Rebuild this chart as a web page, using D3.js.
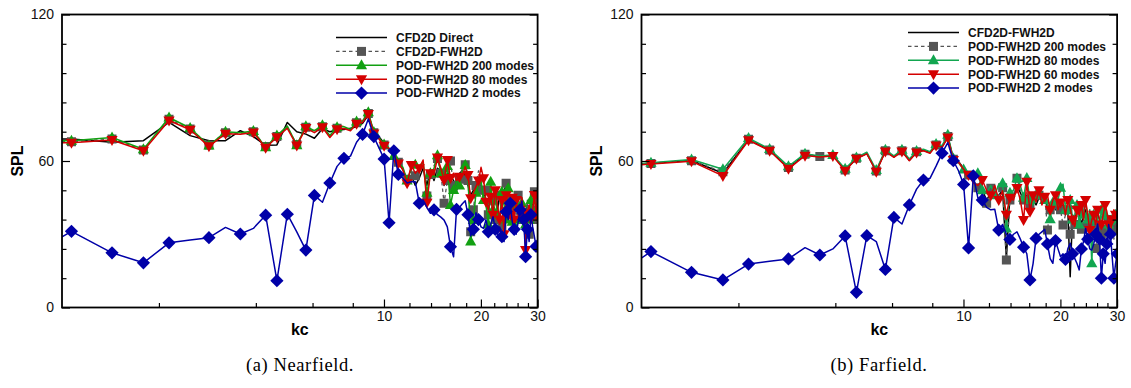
<!DOCTYPE html>
<html>
<head>
<meta charset="utf-8">
<script src="https://cdn.jsdelivr.net/npm/d3@7"></script>
<style>
  body { margin: 0; background: #fff; }
  svg { display: block; }
  text { font-family: "Liberation Sans", Arial, Helvetica, sans-serif; }
</style>
</head>
<body>
<svg id="chart" width="1131" height="388"></svg>
<script>
// Frequency bins (kc)
const kc = [
  0.72, 1.07, 1.43, 1.79, 2.15, 2.50, 2.86, 3.22, 3.58, 3.93,
  4.29, 4.65, 5.01, 5.36, 5.72, 6.08, 6.44, 6.79, 7.15, 7.51,
  7.87, 8.22, 8.58, 8.94, 9.30, 9.65, 10.01, 10.37, 10.73, 11.08,
  11.44, 11.80, 12.16, 12.51, 12.87, 13.23, 13.59, 13.94, 14.30, 14.66,
  15.02, 15.37, 15.73, 16.09, 16.45, 16.80, 17.16, 17.52, 17.88, 18.23,
  18.59, 18.95, 19.31, 19.66, 20.02, 20.38, 20.74, 21.09, 21.45, 21.81,
  22.17, 22.52, 22.88, 23.24, 23.60, 23.95, 24.31, 24.67, 25.03, 25.38,
  25.74, 26.10, 26.46, 26.81, 27.17, 27.53, 27.89, 28.24, 28.60, 28.96,
  29.32, 29.67, 30.03
];

// Nearfield SPL
const nearDirect = [
  69.2, 69.0, 67.7, 68.3, 75.8, 70.4, 68.3, 68.3, 72.4, 70.0,
  66.4, 66.6, 75.8, 72.0, 71.0, 69.3, 73.2, 72.0, 72.7, 72.9,
  73.4, 74.0, 75.4, 78.8, 72.0, 69.9, 67.3, 65.0, 62.0, 59.5,
  56.5, 52.0, 54.0, 50.0, 53.0, 57.0, 50.0, 56.0, 52.0, 57.0,
  56.0, 50.0, 55.0, 54.0, 52.0, 50.0, 55.0, 56.0, 54.0, 50.0,
  46.0, 48.0, 50.0, 52.0, 50.0, 48.0, 44.0, 40.0, 46.0, 42.0,
  44.0, 40.0, 46.0, 42.0, 48.0, 50.0, 44.0, 42.0, 46.0, 40.0,
  44.0, 38.0, 42.0, 40.0, 36.0, 40.0, 42.0, 38.0, 44.0, 40.0,
  46.0, 42.0, 44.0
];
const nearFwh = [
  68.0, 67.9, 69.0, 64.5, 77.1, 73.1, 66.6, 71.6, 71.3, 72.0,
  65.9, 70.0, 73.8, 66.8, 73.8, 72.0, 74.0, 70.0, 73.4, 73.8,
  72.7, 75.7, 76.1, 79.5, 71.6, 69.3, 66.6, 65.0, 62.5, 59.5,
  57.0, 52.5, 56.0, 54.0, 55.5, 58.5, 45.7, 54.5, 58.0, 61.0,
  55.0, 42.7, 52.0, 60.0, 50.0, 47.0, 52.5, 57.5, 58.5, 52.0,
  31.0, 40.0, 50.0, 56.0, 48.0, 45.0, 48.0, 38.0, 42.0, 44.0,
  36.0, 46.0, 47.0, 33.0, 44.0, 50.9, 46.0, 40.0, 44.0, 42.0,
  38.0, 46.0, 40.0, 36.0, 42.0, 38.0, 44.0, 30.0, 40.0, 38.0,
  47.4, 36.0, 44.0
];
const nearPod200 = [
  68.2, 68.3, 69.6, 64.8, 77.8, 73.5, 66.3, 72.0, 71.6, 72.3,
  65.6, 70.4, 74.3, 66.5, 74.2, 72.4, 74.6, 70.4, 73.8, 74.1,
  72.9, 76.2, 76.4, 80.0, 71.9, 69.5, 66.8, 65.0, 62.0, 59.0,
  57.5, 52.0, 57.0, 58.5, 58.0, 59.5, 47.0, 55.0, 57.0, 62.4,
  55.0, 51.5, 58.0, 42.0, 48.1, 52.0, 50.0, 56.0, 58.4, 54.0,
  27.0, 35.8, 47.0, 50.0, 52.0, 44.0, 42.0, 34.0, 51.5, 40.0,
  46.0, 38.0, 36.0, 47.4, 42.0, 36.0, 48.8, 44.0, 35.1, 38.0,
  42.0, 40.0, 36.0, 42.7, 38.0, 34.0, 40.0, 36.0, 44.0, 40.0,
  40.6, 38.0, 40.0
];
const nearPod80 = [
  67.6, 67.5, 68.6, 64.2, 76.6, 72.8, 66.0, 71.2, 71.0, 71.7,
  65.4, 69.7, 73.4, 66.3, 73.5, 71.6, 73.8, 69.6, 73.0, 73.3,
  72.4, 75.3, 75.8, 79.2, 71.3, 69.0, 66.2, 65.2, 62.8, 59.0,
  56.5, 50.9, 58.4, 55.0, 57.0, 60.4, 42.9, 55.0, 54.3, 61.4,
  57.0, 52.2, 60.4, 53.0, 55.0, 52.0, 53.5, 54.0, 57.7, 54.3,
  44.7, 47.0, 49.5, 52.0, 57.4, 52.9, 43.3, 40.0, 45.4, 38.0,
  48.0, 42.0, 36.0, 44.0, 30.0, 46.0, 40.0, 38.0, 45.0, 36.0,
  44.0, 38.0, 40.0, 45.1, 36.5, 23.5, 38.6, 42.0, 36.5, 40.0,
  46.1, 38.0, 46.0
];
const nearPod2 = [
  18.0, 31.2, 22.4, 18.3, 26.5, 27.6, 28.6, 32.8, 30.1, 32.4,
  37.8, 11.0, 38.2, 31.0, 23.5, 45.9, 43.1, 51.0, 57.8, 61.1,
  62.0, 67.7, 70.9, 77.2, 70.0, 65.4, 60.8, 34.7, 64.2, 54.5,
  53.0, 51.0, 51.5, 51.5, 42.7, 44.0, 41.0, 38.6, 40.0, 38.0,
  37.0, 35.8, 33.0, 24.9, 20.8, 40.2, 41.0, 42.5, 43.7, 38.0,
  29.3, 32.0, 38.8, 36.0, 33.0, 32.4, 36.0, 31.0, 34.0, 37.2,
  32.0, 30.0, 33.0, 29.0, 27.0, 39.2, 36.0, 42.7, 35.0, 32.0,
  30.0, 35.0, 40.0, 43.6, 36.0, 20.8, 32.0, 27.0, 38.0, 33.0,
  29.0, 25.0, 28.0
];

// Farfield SPL
const farFwh = [
  57.2, 59.1, 60.2, 55.0, 68.7, 64.4, 57.2, 62.6, 61.8, 62.4,
  56.2, 61.0, 63.1, 55.8, 64.1, 61.7, 64.1, 60.3, 63.7, 64.4,
  63.4, 66.5, 65.8, 69.9, 61.0, 59.8, 57.0, 54.0, 52.0, 49.0,
  48.0, 44.0, 47.0, 45.0, 46.0, 48.0, 20.0, 46.0, 45.0, 50.0,
  47.0, 44.0, 46.0, 40.0, 44.0, 42.0, 45.0, 44.0, 46.0, 40.0,
  42.0, 44.0, 40.0, 42.0, 41.0, 42.0, 38.0, 40.0, 12.6, 38.0,
  36.0, 40.0, 38.0, 34.0, 38.0, 40.0, 36.0, 38.0, 34.0, 36.0,
  34.0, 38.0, 36.0, 34.0, 38.0, 36.0, 34.0, 32.0, 36.0, 34.0,
  38.0, 36.0, 34.0
];
const farPod200 = [
  57.0, 59.0, 60.1, 55.6, 68.9, 64.5, 57.3, 62.8, 61.8, 62.7,
  56.3, 61.1, 63.2, 55.9, 64.2, 61.8, 64.2, 60.4, 63.8, 64.5,
  63.5, 66.6, 65.9, 70.0, 60.7, 59.7, 57.0, 54.3, 52.0, 49.0,
  46.0, 42.7, 48.8, 45.0, 46.0, 49.0, 19.5, 44.0, 46.0, 52.9,
  48.0, 44.0, 47.0, 42.0, 45.0, 43.0, 46.0, 45.0, 47.0, 31.7,
  40.0, 44.0, 42.0, 38.0, 40.0, 33.8, 38.0, 40.0, 30.0, 36.0,
  34.0, 38.0, 40.0, 32.0, 36.0, 33.0, 38.0, 36.0, 30.0, 34.0,
  24.2, 32.0, 36.0, 30.0, 34.0, 32.0, 28.0, 36.0, 30.0, 34.0,
  28.0, 32.0, 34.0
];
const farPod80 = [
  57.3, 59.3, 60.6, 56.6, 69.4, 64.9, 57.8, 63.0, 62.1, 62.5,
  56.8, 61.4, 63.6, 56.3, 64.6, 62.1, 64.6, 60.8, 64.1, 64.8,
  63.8, 67.0, 66.3, 70.8, 61.0, 59.3, 56.5, 54.0, 52.5, 55.0,
  48.0, 47.0, 50.0, 46.0, 50.5, 50.9, 32.4, 47.0, 48.0, 52.9,
  50.0, 45.0, 53.0, 44.0, 42.0, 46.0, 48.0, 46.8, 44.0, 42.0,
  36.1, 43.0, 46.0, 44.0, 49.0, 50.5, 40.0, 38.0, 44.0, 36.0,
  38.0, 42.0, 34.0, 40.0, 38.0, 44.0, 36.0, 40.0, 18.1, 38.0,
  38.6, 36.0, 34.0, 40.0, 36.0, 38.0, 32.0, 34.0, 30.0, 36.0,
  34.0, 38.0, 40.0
];
const farPod60 = [
  56.7, 58.8, 59.9, 53.9, 68.5, 64.2, 56.8, 62.2, 61.6, 62.0,
  56.0, 60.9, 62.9, 55.6, 63.9, 61.5, 63.9, 60.1, 63.5, 64.2,
  63.2, 66.3, 65.6, 69.6, 60.4, 59.5, 56.6, 54.3, 51.0, 50.0,
  52.2, 48.0, 46.0, 50.0, 44.0, 47.8, 38.0, 45.0, 44.0, 48.9,
  44.0, 35.8, 51.5, 39.2, 46.0, 43.3, 48.0, 42.0, 45.4, 46.0,
  40.0, 44.0, 46.0, 40.0, 43.0, 42.7, 38.0, 44.0, 40.6, 36.0,
  33.1, 40.0, 38.0, 42.0, 36.0, 44.0, 38.0, 31.7, 36.0, 38.0,
  34.0, 40.0, 36.0, 34.0, 38.0, 42.0, 39.2, 34.0, 30.0, 36.0,
  40.0, 38.0, 38.0
];
const farPod2 = [
  7.5, 22.9, 14.4, 11.3, 17.8, 18.9, 19.9, 24.5, 21.5, 24.0,
  29.3, 6.2, 29.4, 27.0, 15.6, 36.9, 34.2, 42.0, 48.5, 52.2,
  52.9, 57.9, 63.2, 67.5, 60.1, 56.0, 50.4, 24.4, 53.9, 45.0,
  44.0, 41.0, 40.0, 40.2, 31.7, 34.0, 30.0, 27.9, 30.0, 31.0,
  28.0, 24.7, 22.0, 11.3, 18.0, 28.3, 30.0, 31.0, 32.0, 26.0,
  20.0, 18.1, 27.4, 24.0, 20.8, 22.0, 19.7, 24.0, 26.3, 22.0,
  20.0, 18.0, 15.4, 24.0, 27.0, 32.4, 28.0, 24.0, 23.5, 26.0,
  30.0, 34.2, 28.0, 12.0, 22.0, 18.1, 26.0, 34.0, 30.0, 20.8,
  12.0, 18.0, 22.0
];

// Axis ticks
const splTicks = [0, 60, 120];
const splMinorTicks = [12, 24, 36, 48, 72, 84, 96, 108];
const kcTicks = [10, 20, 30];
const kcMinorTicks = [2, 4, 6, 8, 12, 14, 16, 18, 22, 24, 26, 28];

// Legend labels and captions
const nearLabels = ["CFD2D Direct", "CFD2D-FWH2D", "POD-FWH2D 200 modes", "POD-FWH2D 80 modes", "POD-FWH2D 2 modes"];
const farLabels = ["CFD2D-FWH2D", "POD-FWH2D 200 modes", "POD-FWH2D 80 modes", "POD-FWH2D 60 modes", "POD-FWH2D 2 modes"];
const captions = ["(a) Nearfield.", "(b) Farfield."];

// ---- styles ----
const SHAPES = {
  none: null,
  square: "M-4.5,-4.5H4.5V4.5H-4.5Z",
  triUp: "M0,-6L5.6,4L-5.6,4Z",
  triDown: "M0,6L5.6,-4L-5.6,-4Z",
  diamond: "M0,-6.6L6.6,0L0,6.6L-6.6,0Z"
};
const styleBlack = { color: "#000", width: 1.5, dash: null, shape: "none", gap: 0 };
const styleGray  = { color: "#555", width: 1.3, dash: "3.5,3", shape: "square", gap: 15 };
const styleRed   = { color: "#d40000", width: 1.5, dash: null, shape: "triDown", gap: 15 };
const styleBlue  = { color: "#0000a8", width: 1.5, dash: null, shape: "diamond", gap: 23 };

const panels = [
  {
    x0: 62, x1: 537.6, legendX: 336, legendY: 37.5, caption: captions[0], captionX: 300,
    series: [
      { values: nearDirect, label: nearLabels[0], style: styleBlack },
      { values: nearFwh, label: nearLabels[1], style: styleGray },
      { values: nearPod200, label: nearLabels[2], style: { color: "#12a012", width: 1.5, dash: null, shape: "triUp", gap: 15 } },
      { values: nearPod80, label: nearLabels[3], style: styleRed },
      { values: nearPod2, label: nearLabels[4], style: styleBlue }
    ]
  },
  {
    x0: 641.5, x1: 1117.1, legendX: 908, legendY: 32.5, caption: captions[1], captionX: 879,
    series: [
      { values: farFwh, label: farLabels[0], style: styleBlack },
      { values: farPod200, label: farLabels[1], style: styleGray },
      { values: farPod80, label: farLabels[2], style: { color: "#12a650", width: 1.5, dash: null, shape: "triUp", gap: 15 } },
      { values: farPod60, label: farLabels[3], style: styleRed },
      { values: farPod2, label: farLabels[4], style: styleBlue }
    ]
  }
];

const svg = d3.select("#chart");
const yTop = 14.5, yBottom = 307.5;
const y = d3.scaleLinear().domain([0, 120]).range([yBottom, yTop]);

// symbols spaced along the curve by arc length
function symbolPoints(pts, gap, xmin) {
  const picks = [];
  let prev = null, run = 0;
  for (const p of pts) {
    if (p[0] < xmin - 0.5) { prev = p; continue; }
    if (!picks.length) { picks.push(p); prev = p; run = 0; continue; }
    run += Math.hypot(p[0] - prev[0], p[1] - prev[1]);
    prev = p;
    if (run >= gap) { picks.push(p); run = 0; }
  }
  return picks;
}

panels.forEach((pn, pi) => {
  const x = d3.scaleLog().domain([1, 30]).range([pn.x0, pn.x1]);
  const g = svg.append("g");
  const clipId = "plotclip" + pi;
  svg.append("clipPath").attr("id", clipId)
    .append("rect").attr("x", pn.x0).attr("y", yTop)
    .attr("width", pn.x1 - pn.x0).attr("height", yBottom - yTop);

  const plot = g.append("g").attr("clip-path", `url(#${clipId})`);
  const line = d3.line().x(d => d[0]).y(d => d[1]);

  pn.series.forEach(s => {
    const pts = kc.map((k, i) => [x(k), y(s.values[i])]);
    plot.append("path").datum(pts)
      .attr("d", line)
      .attr("fill", "none")
      .attr("stroke", s.style.color)
      .attr("stroke-width", s.style.width)
      .attr("stroke-dasharray", s.style.dash)
      .attr("stroke-linejoin", "round");
    if (s.style.shape !== "none") {
      plot.selectAll(null).data(symbolPoints(pts, s.style.gap, pn.x0)).join("path")
        .attr("d", SHAPES[s.style.shape])
        .attr("transform", d => `translate(${d[0]},${d[1]})`)
        .attr("fill", s.style.color);
    }
  });

  // axes
  const axisG = g.append("g");
  const bottom = axisG.append("g").attr("transform", `translate(0,${yBottom})`);
  bottom.call(d3.axisBottom(x).tickValues(kcMinorTicks).tickSize(-4.5).tickFormat(""));
  bottom.append("g").call(d3.axisBottom(x).tickValues(kcTicks).tickSize(-8).tickPadding(4).tickFormat(d3.format("d")));

  const left = axisG.append("g").attr("transform", `translate(${pn.x0},0)`);
  left.call(d3.axisLeft(y).tickValues(splMinorTicks).tickSize(-4.5).tickFormat(""));
  left.append("g").call(d3.axisLeft(y).tickValues(splTicks).tickSize(-8).tickPadding(8).tickFormat(d3.format("d")));

  const right = axisG.append("g").attr("transform", `translate(${pn.x1},0)`);
  right.call(d3.axisRight(y).tickValues(splMinorTicks).tickSize(-4.5).tickFormat(""));
  right.append("g").call(d3.axisRight(y).tickValues(splTicks).tickSize(-8).tickFormat(""));

  axisG.selectAll(".domain").remove();
  axisG.selectAll(".tick line").attr("stroke", "#000").attr("stroke-width", 1.2);
  axisG.selectAll(".tick text").attr("fill", "#111").style("font-size", "14px")
    .style("font-family", "'Liberation Sans', Arial, sans-serif");

  g.append("rect").attr("x", pn.x0).attr("y", yTop)
    .attr("width", pn.x1 - pn.x0).attr("height", yBottom - yTop)
    .attr("fill", "none").attr("stroke", "#000").attr("stroke-width", 1.8);

  // axis titles
  g.append("text").attr("transform", `translate(${pn.x0 - 45},${(yTop + yBottom) / 2}) rotate(-90)`)
    .attr("text-anchor", "middle").attr("dy", "0.36em")
    .style("font-size", "16px").style("font-weight", "bold").text("SPL");
  g.append("text").attr("x", x(5.48)).attr("y", 334.5)
    .attr("text-anchor", "middle")
    .style("font-size", "16px").style("font-weight", "bold").text("kc");

  // legend
  const lg = g.append("g");
  pn.series.forEach((s, i) => {
    const ly = pn.legendY + i * 13.9;
    lg.append("line").attr("x1", pn.legendX).attr("x2", pn.legendX + 51)
      .attr("y1", ly).attr("y2", ly)
      .attr("stroke", s.style.color).attr("stroke-width", s.style.width)
      .attr("stroke-dasharray", s.style.dash);
    if (s.style.shape !== "none") {
      lg.append("path").attr("d", SHAPES[s.style.shape])
        .attr("transform", `translate(${pn.legendX + 25.5},${ly})`)
        .attr("fill", s.style.color);
    }
    lg.append("text").attr("x", pn.legendX + 60).attr("y", ly).attr("dy", "0.36em")
      .style("font-size", "12px").style("font-weight", "bold").attr("fill", "#111")
      .text(s.label);
  });

  // caption
  svg.append("text").attr("x", pn.captionX).attr("y", 371)
    .attr("text-anchor", "middle")
    .style("font-family", "'Liberation Serif', 'DejaVu Serif', serif")
    .style("font-size", "18.5px").style("letter-spacing", "0.6px")
    .text(pn.caption);
});
</script>
</body>
</html>
